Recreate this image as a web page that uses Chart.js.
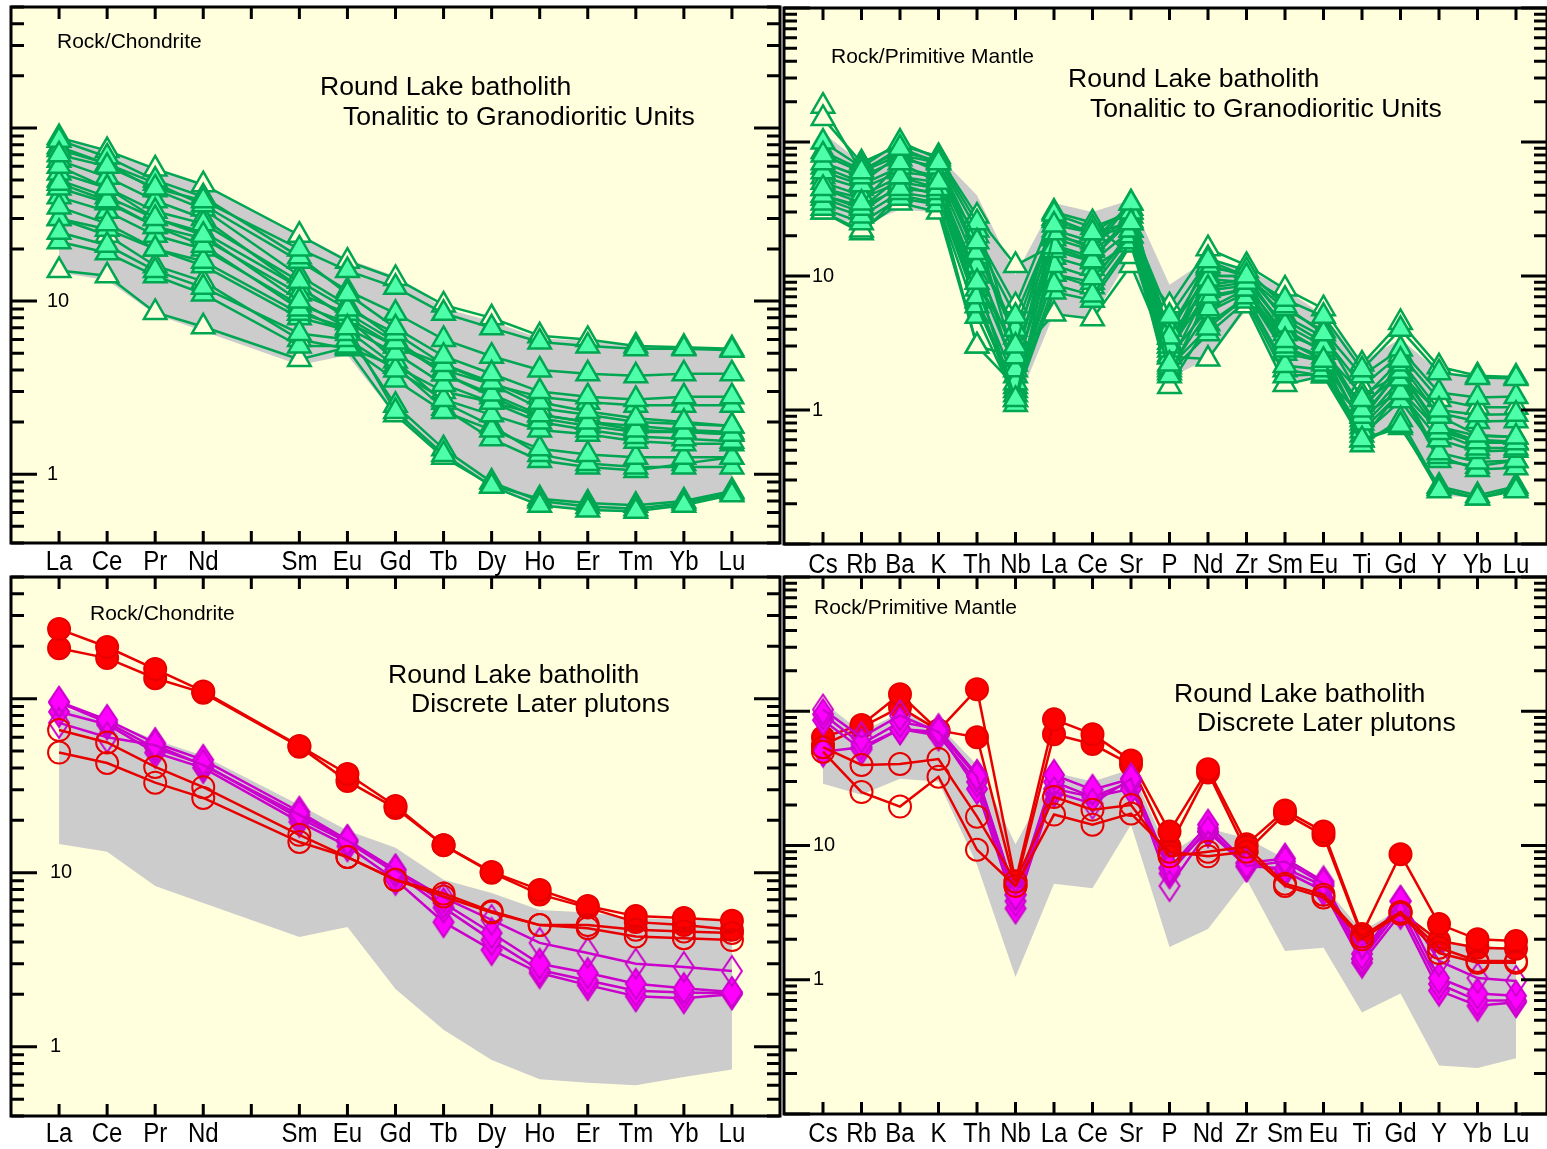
<!DOCTYPE html>
<html>
<head>
<meta charset="utf-8">
<title>Round Lake batholith spider diagrams</title>
<script src="https://cdn.jsdelivr.net/npm/chart.js@4.4.0/dist/chart.umd.min.js"></script>
<style>
  body { margin: 0; background: #fff; width: 1547px; height: 1149px; position: relative; overflow: hidden; }
  canvas { position: absolute; }
</style>
</head>
<body>
<canvas id="reeTop" width="782" height="578" style="left:0;top:0"></canvas>
<canvas id="pmTop" width="765" height="578" style="left:782px;top:0"></canvas>
<canvas id="reeBottom" width="782" height="579" style="left:0;top:570px"></canvas>
<canvas id="pmBottom" width="765" height="579" style="left:782px;top:570px"></canvas>
<script>
// element order along the x axis (Pm slot left empty in the REE plots)
var reeLabels = ["La", "Ce", "Pr", "Nd", "Sm", "Eu", "Gd", "Tb", "Dy", "Ho", "Er", "Tm", "Yb", "Lu"];
var reePos = [0, 1, 2, 3, 5, 6, 7, 8, 9, 10, 11, 12, 13, 14];
var pmLabels = ["Cs", "Rb", "Ba", "K", "Th", "Nb", "La", "Ce", "Sr", "P", "Nd", "Zr", "Sm", "Eu", "Ti", "Gd", "Y", "Yb", "Lu"];
var pmPos = [0, 1, 2, 3, 4, 5, 6, 7, 8, 9, 10, 11, 12, 13, 14, 15, 16, 17, 18];

// envelope of the tonalitic to granodioritic units
var reeBandLow = [14.6, 13.2, 8.4, 6.7, 4.27, 4.87, 2.15, 1.25, 0.84, 0.65, 0.62, 0.60, 0.67, 0.74];
var reeBandHigh = [90, 75, 58, 47, 24.5, 17.5, 13.9, 9.1, 7.65, 6.1, 5.9, 5.5, 5.35, 5.35];
var pmBandLow = [28.8, 23.9, 31.4, 29.8, 7.2, 1.05, 5.2, 4.8, 14.3, 1.75, 2.39, 5.6, 1.64, 1.73, 0.57, 0.79, 0.23, 0.22, 0.26];
var pmBandHigh = [117, 70, 98, 79, 40, 10.2, 35, 30, 37, 8.6, 13.4, 11.3, 8.0, 5.1, 2.3, 3.4, 1.94, 1.79, 1.73];

// tonalitic to granodioritic units, chondrite normalised
var reeTonalFilled = [
  [70, 60, 45, 38, 20, 15, 12, 8.5, 7.0, 5.8, 5.5, 5.3, 5.3, 5.2],
  [60, 45, 30, 24, 10, 7.0, 2.3, 1.3, 0.85, 0.66, 0.62, 0.61, 0.66, 0.76],
  [48, 38, 27, 21, 9.0, 6.5, 2.5, 1.4, 0.9, 0.70, 0.65, 0.63, 0.68, 0.78],
  [85, 68, 50, 40, 18, 11, 7.0, 4.8, 3.8, 3.0, 2.8, 2.7, 2.8, 2.8],
  [75, 62, 48, 36, 17, 11.5, 8.5, 6.0, 4.8, 4.0, 3.8, 3.7, 3.8, 3.8],
  [55, 45, 33, 28, 13, 9.0, 6.5, 4.3, 3.4, 2.6, 2.3, 2.1, 2.0, 1.9],
  [45, 37, 27, 23, 11, 8.5, 5.8, 3.8, 2.9, 2.2, 2.0, 1.8, 1.75, 1.7],
  [35, 28, 20, 17, 8.5, 7.0, 5.0, 3.3, 2.6, 2.0, 1.8, 1.65, 1.6, 1.55],
  [25, 21, 15, 12, 6.5, 6.0, 4.0, 2.7, 2.2, 1.8, 1.7, 1.55, 1.5, 1.5],
  [22, 19, 14, 11, 5.5, 5.5, 3.5, 2.3, 1.8, 1.4, 1.3, 1.25, 1.25, 1.25],
  [65, 52, 38, 30, 12, 8.0, 4.5, 2.6, 1.9, 1.3, 1.15, 1.1, 1.1, 1.1],
  [40, 33, 24, 20, 9.5, 7.5, 5.5, 4.0, 3.3, 2.8, 2.6, 2.5, 2.5, 2.5],
  [78, 62, 44, 34, 14, 9.5, 6.0, 3.8, 2.8, 2.1, 1.9, 1.75, 1.75, 1.7],
  [30, 26, 20, 16, 8.0, 6.8, 4.2, 2.4, 1.6, 1.2, 1.1, 1.05, 1.15, 1.25]
];
var reeTonalOpen = [
  [88, 74, 58, 47, 24, 17, 13.5, 9.5, 8.0, 6.3, 6.0, 5.5, 5.4, 5.3],
  [15, 14, 8.6, 7.1, 4.6, 5.4, 4.2, 3.0, 2.6, 2.2, 2.0, 1.9, 1.8, 1.75],
  [30, 24, 16, 13, 6.0, 5.3, 2.2, 1.25, 0.86, 0.72, 0.68, 0.66, 0.70, 0.80],
  [50, 40, 30, 25, 12, 8.0, 5.5, 4.3, 3.3, 2.4, 2.2, 2.0, 1.95, 1.9]
];

// tonalitic to granodioritic units, primitive mantle normalised
var pmTonalFilled = [
  [80, 60, 90, 70, 18, 5.0, 24, 21, 25, 5.0, 13, 10, 6.7, 5.0, 2.0, 4.0, 1.9, 1.75, 1.72],
  [45, 35, 70, 50, 9.0, 1.2, 21, 16, 35, 2.2, 8.1, 9.0, 3.3, 2.35, 0.6, 0.77, 0.25, 0.22, 0.25],
  [40, 32, 55, 45, 7.0, 1.1, 16.5, 13, 30, 1.8, 7.1, 8.0, 3.0, 2.2, 0.55, 0.85, 0.26, 0.22, 0.26],
  [100, 65, 100, 75, 25, 3.0, 29, 23, 30, 3.5, 13.5, 11, 6.0, 3.7, 1.2, 2.35, 1.0, 0.92, 0.93],
  [70, 55, 75, 65, 15, 4.0, 26, 21, 22, 4.0, 12, 10, 5.7, 3.9, 1.8, 2.85, 1.35, 1.24, 1.26],
  [60, 48, 65, 55, 12, 2.5, 19, 15.5, 25, 3.0, 9.5, 9.0, 4.3, 3.0, 1.0, 2.2, 0.9, 0.65, 0.63],
  [50, 40, 55, 50, 10, 2.0, 15.5, 12.8, 22, 2.8, 7.8, 8.5, 3.7, 2.85, 0.9, 1.95, 0.75, 0.58, 0.57],
  [40, 33, 45, 42, 8.0, 1.6, 12, 9.7, 20, 2.5, 5.7, 8.0, 2.8, 2.35, 0.8, 1.7, 0.68, 0.52, 0.52],
  [35, 28, 42, 38, 6.0, 1.3, 8.6, 7.2, 18, 2.1, 4.1, 7.0, 2.15, 2.0, 0.7, 1.35, 0.6, 0.49, 0.5],
  [32, 25, 38, 34, 5.0, 1.2, 7.6, 6.6, 17, 1.9, 3.7, 6.5, 1.8, 1.85, 0.65, 1.17, 0.48, 0.41, 0.42],
  [65, 50, 80, 60, 14, 1.8, 22, 18, 35, 2.6, 10, 10, 4.0, 2.7, 0.75, 1.5, 0.45, 0.36, 0.37],
  [45, 38, 50, 45, 9.0, 3.0, 13.8, 11.4, 18, 3.2, 6.8, 8.0, 3.2, 2.5, 1.1, 1.85, 0.95, 0.82, 0.83],
  [85, 62, 85, 72, 22, 2.2, 27, 21, 32, 3.0, 11.5, 10.5, 4.7, 3.2, 0.85, 2.0, 0.7, 0.57, 0.57],
  [38, 30, 48, 40, 6.5, 1.4, 10.3, 9.0, 22, 2.0, 5.4, 7.5, 2.65, 2.3, 0.6, 1.4, 0.42, 0.38, 0.42]
];
var pmTonalOpen = [
  [55, 45, 60, 55, 20, 6.0, 30, 25, 14, 6.0, 16, 12, 8.0, 5.7, 2.2, 4.5, 2.1, 1.8, 1.76],
  [30, 22, 35, 30, 3.0, 2.5, 5.2, 4.8, 12, 2.5, 2.4, 6.0, 1.55, 1.8, 0.9, 1.4, 0.7, 0.6, 0.58],
  [30, 21, 40, 35, 3.0, 1.5, 10.3, 8.3, 20, 1.5, 4.4, 7.0, 2.0, 1.8, 0.6, 0.74, 0.27, 0.23, 0.27],
  [150, 70, 95, 78, 28, 12, 17, 13.8, 26, 3.5, 8.5, 9.5, 4.0, 2.7, 1.3, 1.85, 0.75, 0.64, 0.63],
  [185, 60, 80, 70, 15, 3.5, 20, 17, 28, 4.0, 10, 10, 5.0, 3.5, 1.5, 2.6, 1.2, 1.05, 1.05]
];

// discrete later plutons, chondrite normalised
var reeLaterRedFilled = [
  [251, 198, 148, 110, 53.5, 36.9, 24.2, 14.4, 10.1, 7.96, 6.44, 5.63, 5.5, 5.3],
  [195, 171, 131, 108, 53, 33.6, 23.5, 14.4, 10.0, 7.5, 6.3, 5.2, 5.0, 4.7]
];
var reeLaterRedOpen = [
  [66, 56, 40.5, 31, 16.5, 12.3, 9.1, 7.3, 5.9, 5.0, 4.8, 4.3, 4.2, 4.1],
  [49, 42.7, 32.9, 26.9, 15, 12.3, 9.1, 7.6, 6.0, 5.0, 5.0, 4.7, 4.6, 4.5]
];
var reeLaterMagFilled = [
  [96, 75.5, 55.6, 44.5, 22.4, 15.4, 10.4, 6.7, 4.5, 3.0, 2.65, 2.3, 2.17, 2.06],
  [95, 73, 52, 42, 20.6, 15, 10, 6.3, 4.1, 2.76, 2.4, 2.1, 2.05, 2.03],
  [84, 71, 49, 40, 19.6, 14.2, 9.1, 5.2, 3.6, 2.65, 2.26, 1.95, 1.9, 2.0]
];
var reeLaterMagOpen = [
  [72.6, 60, 54, 41.5, 21.5, 15.3, 10.4, 7.2, 5.35, 3.95, 3.46, 3.0, 2.87, 2.72]
];

// discrete later plutons, primitive mantle normalised
var pmLaterRedFilled = [
  [64, 79, 134, 72, 146, 5.4, 87, 67.5, 43, 12.7, 37, 10.2, 18.2, 12.7, 2.19, 8.6, 2.6, 2.0, 1.94],
  [56, 76, 107, 72, 64, 5.0, 67.5, 57, 40, 9.8, 35, 9.0, 17.3, 11.9, 2.1, 3.2, 1.95, 1.73, 1.7]
];
var pmLaterRedOpen = [
  [54, 39.8, 40.5, 44, 16.4, 5.4, 23, 18.5, 20, 8.3, 9.0, 9.8, 5.2, 4.3, 2.1, 3.2, 1.73, 1.38, 1.38],
  [50, 25, 19.5, 32.5, 9.3, 5.0, 17, 14.3, 17.3, 9.0, 8.3, 9.0, 5.0, 4.1, 2.0, 3.1, 1.58, 1.34, 1.34]
];
var pmLaterMagFilled = [
  [95, 57, 83, 73.6, 33.6, 4.3, 33.6, 26, 31.4, 6.76, 14.3, 7.4, 8.0, 5.4, 1.56, 3.85, 1.03, 0.79, 0.76],
  [86, 52, 73.6, 66, 29.8, 3.85, 29.8, 23, 29.8, 6.2, 13.4, 7.0, 6.76, 5.0, 1.43, 3.4, 0.93, 0.70, 0.70],
  [50, 54, 73.6, 70, 26.4, 3.4, 26.4, 23, 26.4, 6.8, 12.7, 7.4, 6.4, 4.6, 1.34, 3.1, 0.83, 0.64, 0.68]
];
var pmLaterMagOpen = [
  [103, 64, 93, 70, 32.5, 4.3, 25, 20.5, 31.4, 5.0, 12.7, 7.0, 7.6, 5.2, 1.43, 3.85, 1.38, 1.03, 0.98]
];

var plotBg = "#FFFFDD";
var green = "#00A651", greenFill = "#4CFFA8";
var red = "#E80000", redFill = "#FF0000";
var purple = "#CC00CC", purpleFill = "#FF00FF";
var fontFamily = "'Liberation Sans', Arial, sans-serif";

// tall diamond marker drawn once to an offscreen canvas
function makeDiamond(w, h, fill, stroke, lw) {
  var c = document.createElement("canvas");
  c.width = w + lw * 2;
  c.height = h + lw * 2;
  var g = c.getContext("2d");
  var cx = c.width / 2, cy = c.height / 2;
  g.beginPath();
  g.moveTo(cx, cy - h / 2);
  g.lineTo(cx + w / 2, cy);
  g.lineTo(cx, cy + h / 2);
  g.lineTo(cx - w / 2, cy);
  g.closePath();
  if (fill) { g.fillStyle = fill; g.fill(); }
  g.lineWidth = lw;
  g.strokeStyle = stroke;
  g.stroke();
  return c;
}
var diamondFilled = makeDiamond(20, 30, purpleFill, purple, 2);
var diamondOpen = makeDiamond(20, 30, null, purple, 2);

function toPoints(pos, vals) {
  return vals.map(function (v, i) { return { x: pos[i], y: v }; });
}

function seriesSet(pos, rows, style) {
  return rows.map(function (row) {
    var ds = { data: toPoints(pos, row), fill: false, tension: 0, order: 1 };
    for (var k in style) ds[k] = style[k];
    return ds;
  });
}

function band(pos, low, high) {
  return [
    { data: toPoints(pos, low), borderWidth: 0, pointRadius: 0, fill: false, order: 50 },
    { data: toPoints(pos, high), borderWidth: 0, pointRadius: 0, fill: "-1", backgroundColor: "#CCCCCC", order: 50 }
  ];
}

var triFilled = { borderColor: green, borderWidth: 2.5, pointStyle: "triangle", pointRadius: 13,
  pointBorderWidth: 2.5, pointBackgroundColor: greenFill, pointBorderColor: green };
var triOpen = { borderColor: green, borderWidth: 2.5, pointStyle: "triangle", pointRadius: 13,
  pointBorderWidth: 2.5, pointBackgroundColor: plotBg, pointBorderColor: green };
var dotFilled = { borderColor: red, borderWidth: 2.5, pointStyle: "circle", pointRadius: 11,
  pointBorderWidth: 2, pointBackgroundColor: redFill, pointBorderColor: red };
var dotOpen = { borderColor: red, borderWidth: 2.5, pointStyle: "circle", pointRadius: 11,
  pointBorderWidth: 2, pointBackgroundColor: "rgba(0,0,0,0)", pointBorderColor: red };
var diaFilled = { borderColor: purple, borderWidth: 2.5, pointStyle: diamondFilled, pointRadius: 12 };
var diaOpen = { borderColor: purple, borderWidth: 2.5, pointStyle: diamondOpen, pointRadius: 12 };

// plot background, box, inward ticks and the labels
var framePlugin = {
  id: "frame",
  beforeDraw: function (chart) {
    var a = chart.chartArea, ctx = chart.ctx;
    ctx.save();
    ctx.fillStyle = plotBg;
    ctx.fillRect(a.left, a.top, a.right - a.left, a.bottom - a.top);
    ctx.restore();
  },
  afterDraw: function (chart, args, opts) {
    var a = chart.chartArea, ctx = chart.ctx;
    var xs = chart.scales.x, ys = chart.scales.y;
    ctx.save();
    ctx.strokeStyle = "#000";
    ctx.lineWidth = 3;
    ctx.beginPath();
    opts.tickPos.forEach(function (p) {
      var x = xs.getPixelForValue(p);
      ctx.moveTo(x, a.top); ctx.lineTo(x, a.top + 12);
      ctx.moveTo(x, a.bottom); ctx.lineTo(x, a.bottom - 12);
    });
    var e0 = Math.floor(Math.log10(ys.min)), e1 = Math.ceil(Math.log10(ys.max));
    for (var e = e0; e <= e1; e++) {
      for (var m = 1; m <= 9; m++) {
        var v = m * Math.pow(10, e);
        if (v < ys.min * 0.999 || v > ys.max * 1.001) continue;
        var y = ys.getPixelForValue(v);
        var len = m === 1 ? 26 : 13;
        ctx.moveTo(a.left, y); ctx.lineTo(a.left + len, y);
        ctx.moveTo(a.right, y); ctx.lineTo(a.right - len, y);
      }
    }
    ctx.stroke();
    ctx.strokeRect(a.left, a.top, a.right - a.left, a.bottom - a.top);

    ctx.fillStyle = "#000";
    ctx.textBaseline = "middle";
    ctx.textAlign = "left";
    ctx.font = "20px " + fontFamily;
    opts.yLabels.forEach(function (v) {
      ctx.fillText(String(v), a.left + opts.yLabelDx, ys.getPixelForValue(v));
    });

    // element names, drawn slightly tall like the original lettering
    ctx.textAlign = "center";
    ctx.font = "24px " + fontFamily;
    opts.xLabels.forEach(function (t, i) {
      ctx.save();
      ctx.translate(xs.getPixelForValue(opts.xPos[i]), a.bottom + opts.xLabelDy);
      ctx.scale(1, 1.15);
      ctx.fillText(t, 0, 0);
      ctx.restore();
    });

    ctx.textAlign = "left";
    opts.notes.forEach(function (n) {
      ctx.font = n.size + "px " + fontFamily;
      ctx.fillText(n.text, n.x, n.y);
    });
    ctx.restore();
  }
};

function makeChart(id, cfg) {
  return new Chart(document.getElementById(id), {
    type: "line",
    data: { datasets: cfg.datasets },
    options: {
      responsive: false,
      animation: false,
      events: [],
      layout: { padding: cfg.padding, autoPadding: false },
      scales: {
        x: { type: "linear", min: cfg.xMin, max: cfg.xMax, display: false },
        y: { type: "logarithmic", min: cfg.yMin, max: cfg.yMax, display: false }
      },
      plugins: {
        legend: { display: false },
        tooltip: { enabled: false },
        frame: cfg.frame
      }
    },
    plugins: [framePlugin]
  });
}

var reeTicks = [0, 1, 2, 3, 4, 5, 6, 7, 8, 9, 10, 11, 12, 13, 14];

makeChart("reeTop", {
  padding: { left: 11, top: 7, right: 2, bottom: 35 },
  xMin: -1, xMax: 15, yMin: 0.4, yMax: 500,
  datasets: band(reePos, reeBandLow, reeBandHigh)
    .concat(seriesSet(reePos, reeTonalFilled, triFilled))
    .concat(seriesSet(reePos, reeTonalOpen, triOpen)),
  frame: {
    tickPos: reeTicks, xPos: reePos, xLabels: reeLabels, xLabelDy: 19,
    yLabels: [10, 1], yLabelDx: 36,
    notes: [
      { text: "Rock/Chondrite", x: 57, y: 42, size: 21 },
      { text: "Round Lake batholith", x: 320, y: 88, size: 26.6 },
      { text: "Tonalitic to Granodioritic Units", x: 343, y: 118, size: 26.6 }
    ]
  }
});

makeChart("pmTop", {
  padding: { left: 2, top: 8, right: 0, bottom: 34 },
  xMin: -1.013, xMax: 18.805, yMin: 0.1, yMax: 1000,
  datasets: band(pmPos, pmBandLow, pmBandHigh)
    .concat(seriesSet(pmPos, pmTonalFilled, triFilled))
    .concat(seriesSet(pmPos, pmTonalOpen, triOpen)),
  frame: {
    tickPos: pmPos, xPos: pmPos, xLabels: pmLabels, xLabelDy: 21,
    yLabels: [10, 1], yLabelDx: 28,
    notes: [
      { text: "Rock/Primitive Mantle", x: 49, y: 57, size: 21 },
      { text: "Round Lake batholith", x: 286, y: 80, size: 26.6 },
      { text: "Tonalitic to Granodioritic Units", x: 308, y: 110, size: 26.6 }
    ]
  }
});

makeChart("reeBottom", {
  padding: { left: 11, top: 7, right: 2, bottom: 33 },
  xMin: -1, xMax: 15, yMin: 0.4, yMax: 500,
  datasets: band(reePos, reeBandLow, reeBandHigh)
    .concat(seriesSet(reePos, reeLaterRedOpen, dotOpen))
    .concat(seriesSet(reePos, reeLaterMagOpen, diaOpen))
    .concat(seriesSet(reePos, reeLaterMagFilled, diaFilled))
    .concat(seriesSet(reePos, reeLaterRedFilled, dotFilled)),
  frame: {
    tickPos: reeTicks, xPos: reePos, xLabels: reeLabels, xLabelDy: 18,
    yLabels: [10, 1], yLabelDx: 39,
    notes: [
      { text: "Rock/Chondrite", x: 90, y: 44, size: 21 },
      { text: "Round Lake batholith", x: 388, y: 106, size: 26.6 },
      { text: "Discrete Later plutons", x: 411, y: 135, size: 26.6 }
    ]
  }
});

makeChart("pmBottom", {
  padding: { left: 2, top: 7, right: 0, bottom: 35 },
  xMin: -1.013, xMax: 18.805, yMin: 0.1, yMax: 1000,
  datasets: band(pmPos, pmBandLow, pmBandHigh)
    .concat(seriesSet(pmPos, pmLaterRedOpen, dotOpen))
    .concat(seriesSet(pmPos, pmLaterMagOpen, diaOpen))
    .concat(seriesSet(pmPos, pmLaterMagFilled, diaFilled))
    .concat(seriesSet(pmPos, pmLaterRedFilled, dotFilled)),
  frame: {
    tickPos: pmPos, xPos: pmPos, xLabels: pmLabels, xLabelDy: 20,
    yLabels: [10, 1], yLabelDx: 29,
    notes: [
      { text: "Rock/Primitive Mantle", x: 32, y: 38, size: 21 },
      { text: "Round Lake batholith", x: 392, y: 125, size: 26.6 },
      { text: "Discrete Later plutons", x: 415, y: 154, size: 26.6 }
    ]
  }
});
</script>
</body>
</html>
